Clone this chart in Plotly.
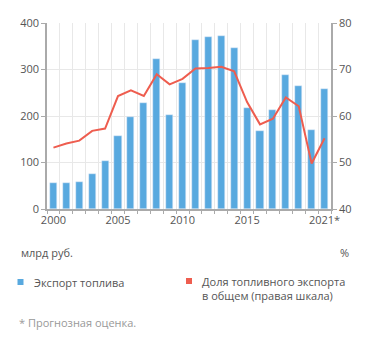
import plotly.graph_objects as go

# Fuel exports, bn rubles, and fuel share of total exports, %
years = list(range(2000, 2022))
export_values = [55, 55, 58, 76, 104, 156, 198, 227, 322, 202, 271,
                 363, 370, 372, 347, 217, 167, 213, 289, 264, 169, 258]
share_values = [53.2, 54.1, 54.7, 56.8, 57.3, 64.3, 65.5, 64.3, 69.0, 66.8, 68.0,
                70.2, 70.3, 70.6, 69.6, 63.0, 58.2, 59.4, 64.0, 62.1, 49.8, 55.2]
tick_years = [2000, 2005, 2010, 2015, 2021]
tick_labels = ["2000", "2005", "2010", "2015", "2021*"]

BLUE = "#58a9df"
RED = "#ee5d4f"
GRID = "#e8e8e8"
AXIS = "#aaaaaa"
TEXT = "#555555"
FONT = "Open Sans"

fig = go.Figure()
fig.add_trace(go.Bar(x=years, y=export_values, marker_color=BLUE, width=0.55,
                     name="Экспорт топлива"))
fig.add_trace(go.Scatter(x=years, y=share_values, yaxis="y2", mode="lines",
                         line=dict(color=RED, width=2), name="Доля"))

boundaries = [y + 0.5 for y in range(1999, 2022)]

fig.update_layout(
    width=371, height=344,
    margin=dict(l=47, r=40, t=23, b=135),
    paper_bgcolor="white", plot_bgcolor="white",
    showlegend=False,
    font=dict(family=FONT, size=11, color=TEXT),
    bargap=0,
    xaxis=dict(
        range=[1999.5, 2021.5],
        tickvals=tick_years, ticktext=tick_labels,
        showgrid=False, ticks="", zeroline=False,
        showline=True, linecolor=AXIS, linewidth=1.5,
        tickfont=dict(size=11, color=TEXT),
        minor=dict(tickvals=boundaries, showgrid=True, gridcolor=GRID,
                   gridwidth=1, ticks="outside", ticklen=3, tickcolor=AXIS),
    ),
    yaxis=dict(
        range=[0, 400], tickvals=[0, 100, 200, 300, 400],
        showgrid=True, gridcolor=GRID, gridwidth=1, zeroline=False,
        showline=True, linecolor=AXIS, linewidth=1.5,
        ticks="outside", ticklen=4, tickcolor=AXIS,
        tickfont=dict(size=11, color=TEXT),
    ),
    yaxis2=dict(
        range=[40, 80], tickvals=[40, 50, 60, 70, 80],
        overlaying="y", side="right", showgrid=False, zeroline=False,
        showline=True, linecolor=AXIS, linewidth=1.5,
        ticks="outside", ticklen=4, tickcolor=AXIS,
        tickfont=dict(size=11, color=TEXT),
    ),
)

# Plot area in pixels: x 47..331, y 23..209
def px_x(p):
    return (p - 47) / 284

def px_y(p):
    return (209 - p) / 186

annotations = [
    dict(x=px_x(19), y=px_y(252), text="млрд руб.", xanchor="left"),
    dict(x=px_x(351), y=px_y(252), text="%", xanchor="right"),
    dict(x=px_x(32), y=px_y(282), text="Экспорт топлива", xanchor="left"),
    dict(x=px_x(200), y=px_y(288), text="Доля топливного экспорта<br>в общем (правая шкала)",
         xanchor="left", align="left"),
    dict(x=px_x(17), y=px_y(322), text="* Прогнозная оценка.", xanchor="left",
         font=dict(size=11, color="#999999")),
]
for a in annotations:
    a.update(xref="paper", yref="paper", yanchor="middle", showarrow=False)
    a.setdefault("font", dict(size=11, color=TEXT))
    fig.add_annotation(**a)

for color, cx, cy in [(BLUE, 20.5, 282), (RED, 189, 281)]:
    fig.add_shape(type="rect", xref="paper", yref="paper",
                  x0=px_x(cx - 3), x1=px_x(cx + 3), y0=px_y(cy + 3), y1=px_y(cy - 3),
                  fillcolor=color, line_width=0)

fig.write_html("out.html")
